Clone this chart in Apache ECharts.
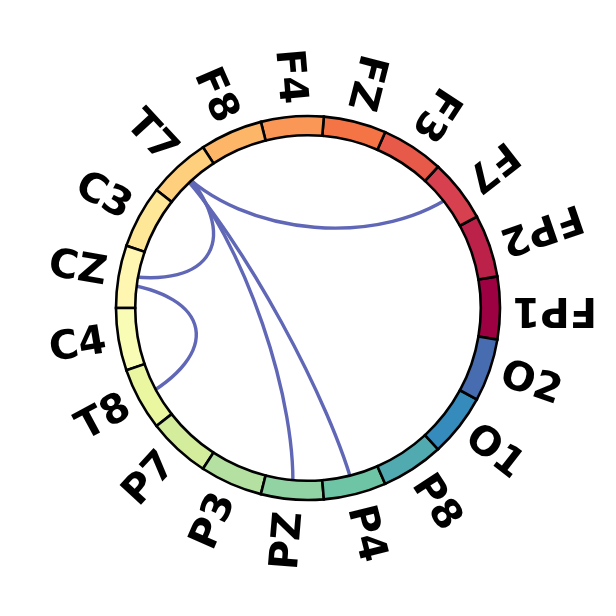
<!DOCTYPE html>
<html>
<head>
<meta charset="utf-8">
<script src="https://cdn.jsdelivr.net/npm/echarts@6/dist/echarts.min.js"></script>
<style>html,body{margin:0;padding:0;background:#fff}#chart{width:616px;height:616px}</style>
</head>
<body>
<div id="chart"></div>
<script>
// Node labels in counter-clockwise order starting at the right (0°)
const nodeNames = ['FP1','FP2','F7','F3','FZ','F4','F8','T7','C3','CZ','C4','T8','P7','P3','PZ','P4','P8','O1','O2'];
// Node colours (Spectral colormap samples)
const nodeColors = ['#9e0142','#bb2149','#d7404e','#e75948','#f57446','#fa9656','#fdb668','#fed07e','#fee796','#fff7b1','#f8fcb5','#ebf7a0','#d3ed9c','#b4e1a2','#92d3a4','#6dc5a5','#50aaaf','#358bbc','#476db0'];
// Connections
const connFrom = ['T7','T7','T7','T7','CZ'];
const connTo   = ['F7','CZ','PZ','P4','T8'];
// small angular jitter of end points (degrees)
const connFromJitter = [0.3, -0.6, 0.0, 0.6, 1.9];
const connToJitter   = [0.0, -0.5, 0.0, 0.0, 0.0];

const N = nodeNames.length;
const STEP = 360 / N;
const RING_IN = 9, RING_OUT = 10, LABEL_R = 10.65, CTRL_R = 5;

const chart = echarts.init(document.getElementById('chart'));

function dist(a, b){ return Math.hypot(a[0]-b[0], a[1]-b[1]); }

const ringData = nodeNames.map((n, i) => ({ value: [RING_OUT, i * STEP], name: n }));
const connData = connFrom.map((f, k) => {
  const a0 = nodeNames.indexOf(f) * STEP + connFromJitter[k];
  const a1 = nodeNames.indexOf(connTo[k]) * STEP + connToJitter[k];
  return { value: [a0, a1] };
});

chart.setOption({
  animation: false,
  backgroundColor: '#ffffff',
  polar: { center: ['50%', '50%'], radius: 192 },
  angleAxis: { type: 'value', min: 0, max: 360, startAngle: 0, clockwise: false, show: false,
    axisLine:{show:false}, axisTick:{show:false}, axisLabel:{show:false}, splitLine:{show:false} },
  radiusAxis: { type: 'value', min: 0, max: 10, show: false,
    axisLine:{show:false}, axisTick:{show:false}, axisLabel:{show:false}, splitLine:{show:false} },
  series: [
    {
      type: 'custom', coordinateSystem: 'polar', clip: false, z: 1,
      data: connData,
      renderItem: function (params, api) {
        const a0 = api.value(0), a1 = api.value(1);
        const p0 = api.coord([RING_OUT, a0]);
        const c1 = api.coord([CTRL_R, a0]);
        const c2 = api.coord([CTRL_R, a1]);
        const p1 = api.coord([RING_OUT, a1]);
        return {
          type: 'bezierCurve',
          shape: { x1: p0[0], y1: p0[1], cpx1: c1[0], cpy1: c1[1], cpx2: c2[0], cpy2: c2[1], x2: p1[0], y2: p1[1] },
          style: { stroke: '#5f67b6', lineWidth: 3.4, fill: null }
        };
      }
    },
    {
      type: 'custom', coordinateSystem: 'polar', clip: false, z: 2,
      data: ringData,
      renderItem: function (params, api) {
        const i = params.dataIndex;
        const a = api.value(1);
        const c = api.coord([0, a]);
        const r0 = dist(c, api.coord([RING_IN, a]));
        const r = dist(c, api.coord([RING_OUT, a]));
        const s = -(a + STEP / 2) * Math.PI / 180;
        const e = -(a - STEP / 2) * Math.PI / 180;
        return {
          type: 'sector',
          shape: { cx: c[0], cy: c[1], r0: r0, r: r, startAngle: s, endAngle: e, clockwise: true },
          style: { fill: nodeColors[i], stroke: '#000', lineWidth: 2.6 }
        };
      }
    },
    {
      type: 'custom', coordinateSystem: 'polar', clip: false, z: 3,
      data: ringData,
      renderItem: function (params, api) {
        const i = params.dataIndex;
        const a = api.value(1);
        const p = api.coord([LABEL_R, a]);
        let rot, align;
        if (a >= 270) { rot = a; align = 'left'; } else { rot = a + 180; align = 'right'; }
        return {
          type: 'text',
          x: p[0], y: p[1],
          rotation: rot * Math.PI / 180,
          style: { text: nodeNames[i], font: 'bold 40px "DejaVu Sans"', fill: '#000', align: align, verticalAlign: 'middle' }
        };
      }
    }
  ]
});
</script>
</body>
</html>
